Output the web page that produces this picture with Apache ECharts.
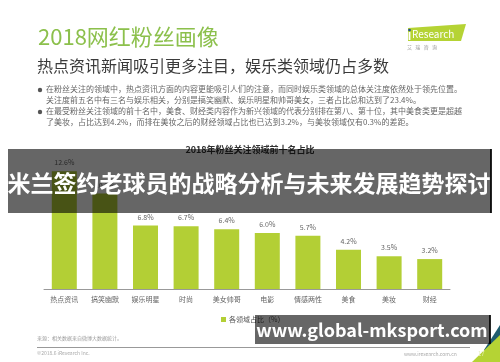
<!DOCTYPE html>
<html>
<head>
<meta charset="utf-8">
<script src="https://cdn.jsdelivr.net/npm/echarts@6/dist/echarts.min.js"></script>
<style>
html,body{margin:0;padding:0;background:#fff;}
#c{width:500px;height:362px;}
</style>
</head>
<body>
<div id="c"></div>
<script>
const categories = ['热点资讯','搞笑幽默','娱乐明星','时尚','美女帅哥','电影','情感两性','美食','美妆','财经'];
const shares = [12.6, 10.2, 6.8, 6.7, 6.4, 6.0, 5.7, 4.2, 3.5, 3.2];
const seriesName = '各领域占比（%）';
const chartTitle = '2018年粉丝关注领域前十名占比';
const bullets = [
  '在粉丝关注的领域中，热点资讯方面的内容更能吸引人们的注意，而同时娱乐类领域的总体关注度依然处于领先位置。',
  '关注度前五名中有三名与娱乐相关，分别是搞笑幽默、娱乐明星和帅哥美女，三者占比总和达到了23.4%。',
  '在最受粉丝关注领域的前十名中，美食、财经类内容作为新兴领域的代表分别排在第八、第十位，其中美食类更是超越',
  '了美妆，占比达到4.2%，而排在美妆之后的财经领域占比也已达到3.2%，与美妆领域仅有0.3%的差距。'
];

const FONT = '"Noto Sans CJK SC", "Noto Sans", sans-serif';
const chart = echarts.init(document.getElementById('c'), null, {renderer: 'canvas'});

const graphics = [
  {type:'text', left:38, top:26, style:{text:'2018网红粉丝画像', fill:'#8cc04c', font:'22px ' + FONT}},
  {type:'text', left:37, top:58, style:{text:'热点资讯新闻吸引更多注目，娱乐类领域仍占多数', fill:'#3a3a3a', font:'16px ' + FONT}},
  {type:'circle', shape:{cx:40, cy:90, r:2.2}, style:{fill:'#555'}},
  {type:'circle', shape:{cx:40, cy:112, r:2.2}, style:{fill:'#555'}},
  {type:'text', left:46, top:85, style:{text:bullets[0], fill:'#666', font:'8px ' + FONT}},
  {type:'text', left:46, top:96, style:{text:bullets[1], fill:'#666', font:'8px ' + FONT}},
  {type:'text', left:46, top:107, style:{text:bullets[2], fill:'#666', font:'8px ' + FONT}},
  {type:'text', left:46, top:118, style:{text:bullets[3], fill:'#666', font:'8px ' + FONT}},
  // logo
  {type:'polygon', shape:{points:[[408,28],[466,24],[461,41],[408,41]]}, style:{fill:'#b5d334'}},
  {type:'circle', shape:{cx:409.5, cy:30, r:1.3}, style:{fill:'#1f4e8c'}},
  {type:'rect', shape:{x:408.6, y:32, width:1.8, height:8}, style:{fill:'#ffffff'}},
  {type:'text', left:412, top:29, style:{text:'Research', fill:'#fff', font:'10px ' + FONT}},
  {type:'text', left:407, top:45, style:{text:'艾   瑞   咨   询', fill:'#999', font:'5px ' + FONT}},
  // footer
  {type:'text', left:37, top:336, style:{text:'来源：相关数据来自微博大数据统计。', fill:'#999', font:'5px ' + FONT}},
  {type:'line', shape:{x1:37, y1:347.5, x2:470, y2:347.5}, style:{stroke:'#999', lineWidth:1}},
  {type:'text', left:37, top:351, style:{text:'©2018.6 iResearch Inc.', fill:'#aaa', font:'5px ' + FONT}},
  {type:'text', left:404, top:352, style:{text:'www.iresearch.com.cn', fill:'#aaa', font:'5px ' + FONT}},
  {type:'polygon', shape:{points:[[500,325],[500,350],[484,350]]}, style:{fill:'#1f5c6e'}},
  {type:'polygon', shape:{points:[[500,335],[500,362],[472,362]]}, style:{fill:'#b5d334'}},
  {type:'text', left:478, top:351, style:{text:'17', fill:'#e8f0c0', font:'6px ' + FONT}},
  // overlay banners
  {type:'rect', z:100, shape:{x:8, y:149, width:483, height:64}, style:{fill:'rgba(0,0,0,0.6)'}},
  {type:'rect', z:100, shape:{x:490, y:149, width:2, height:64}, style:{fill:'rgba(0,0,0,0.85)'}},
  {type:'text', z:101, x:249, y:183, style:{text:'米兰签约老球员的战略分析与未来发展趋势探讨', fill:'#fff', font:'bold 23px ' + FONT, textAlign:'center', textVerticalAlign:'middle'}},
  {type:'rect', z:100, shape:{x:255, y:315, width:235, height:29}, style:{fill:'rgba(0,0,0,0.6)'}},
  {type:'rect', z:100, shape:{x:489, y:315, width:2, height:29}, style:{fill:'rgba(0,0,0,0.85)'}},
  {type:'text', z:101, x:372, y:330, style:{text:'www.global-mksport.com', fill:'#fff', font:'bold 18px ' + FONT, textAlign:'center', textVerticalAlign:'middle'}}
];

chart.setOption({
  animation: false,
  backgroundColor: '#fff',
  title: {text: chartTitle, left: 'center', top: 140, textStyle:{fontSize:9, fontWeight:'bold', color:'#333', fontFamily:FONT}},
  legend: {data:[seriesName], left:216, top:311, icon:'rect', itemWidth:5, itemHeight:5, itemGap:3,
    textStyle:{fontSize:7, color:'#555', fontFamily:FONT, padding:[0,0,0,-2]}},
  grid: {left:44, right:50, top:159, bottom:73},
  xAxis: {type:'category', data:categories,
    axisLine:{lineStyle:{color:'#999'}}, axisTick:{show:false},
    axisLabel:{fontSize:7, color:'#666', fontFamily:FONT, margin:7}},
  yAxis: {type:'value', min:0, max:13.9, show:false, splitLine:{show:false}},
  series: [{name:seriesName, type:'bar', data:shares, barWidth:25,
    itemStyle:{color:'#b3cf35'},
    label:{show:true, position:'top', formatter: p => p.value.toFixed(1) + '%', fontSize:7, color:'#666', fontFamily:FONT, distance:5}}],
  graphic: graphics
});
</script>
</body>
</html>
